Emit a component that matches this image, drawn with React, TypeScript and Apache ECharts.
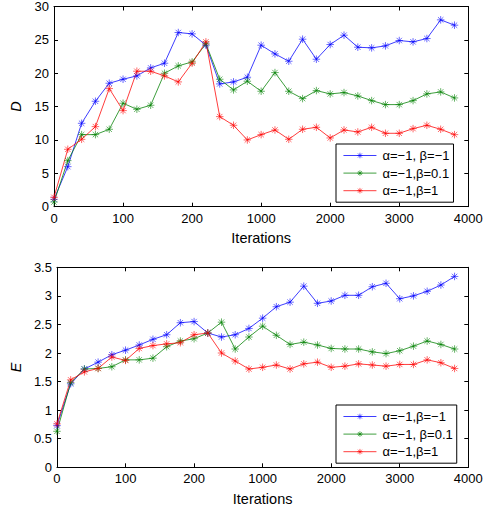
import React, { useEffect, useRef } from "react";
import * as echarts from "echarts";

const iterations = [0, 20, 40, 60, 80, 100, 120, 140, 160, 180, 200, 220, 400, 600, 800, 1000, 1200, 1400, 1600, 1800, 2000, 2200, 2400, 2600, 2800, 3000, 3200, 3400, 3600, 3800];
const xTickLabels = ["0", "100", "200", "1000", "2000", "3000", "4000"];

const dBlue = [1.1, 6.0, 12.5, 15.8, 18.5, 19.1, 19.6, 20.8, 21.5, 26.1, 25.9, 24.2, 18.4, 18.7, 19.4, 24.2, 22.9, 21.8, 25.1, 22.1, 24.3, 25.7, 23.9, 23.8, 24.1, 24.9, 24.7, 25.2, 28.0, 27.2];
const dGreen = [0.7, 6.9, 10.8, 10.8, 11.6, 15.5, 14.6, 15.2, 20.0, 21.1, 21.7, 24.4, 19.1, 17.5, 18.8, 17.3, 20.1, 17.3, 16.2, 17.4, 16.9, 17.1, 16.6, 15.9, 15.3, 15.3, 15.9, 16.9, 17.2, 16.3];
const dRed = [1.4, 8.6, 10.1, 12.0, 17.7, 14.4, 20.3, 20.3, 19.6, 18.7, 21.5, 24.7, 13.5, 12.2, 10.0, 10.8, 11.5, 10.1, 11.6, 11.9, 10.3, 11.5, 11.2, 11.9, 11.0, 11.0, 11.7, 12.2, 11.6, 10.8];

const eBlue = [0.73, 1.46, 1.72, 1.84, 1.97, 2.05, 2.14, 2.24, 2.32, 2.53, 2.55, 2.35, 2.28, 2.32, 2.43, 2.61, 2.81, 2.89, 3.17, 2.87, 2.91, 3.01, 3.01, 3.16, 3.22, 2.95, 3.0, 3.08, 3.19, 3.34];
const eGreen = [0.63, 1.48, 1.72, 1.73, 1.76, 1.88, 1.88, 1.91, 2.11, 2.21, 2.25, 2.35, 2.54, 2.07, 2.28, 2.47, 2.31, 2.15, 2.19, 2.14, 2.08, 2.07, 2.07, 2.02, 1.99, 2.04, 2.12, 2.21, 2.15, 2.07];
const eRed = [0.76, 1.53, 1.67, 1.73, 1.93, 1.87, 2.08, 2.13, 2.16, 2.18, 2.32, 2.35, 2.0, 1.86, 1.72, 1.75, 1.79, 1.72, 1.81, 1.84, 1.75, 1.77, 1.81, 1.79, 1.77, 1.8, 1.8, 1.88, 1.83, 1.73];

const namesTop = ["α=−1, β=−1", "α=−1,β=0.1", "α=−1,β=1"];
const namesBottom = ["α=−1,β=−1", "α=−1, β=0.1", "α=−1,β=1"];
const colors = ["#0000ff", "#008000", "#ff0000"];

const STAR = "path://M0,-5L0,5M-5,0L5,0M-3.6,-3.6L3.6,3.6M-3.6,3.6L3.6,-3.6";
const FONT = "'Liberation Sans', Arial, Helvetica, sans-serif";

export default function App() {
  const ref = useRef<HTMLDivElement>(null);
  useEffect(() => {
    document.body.style.margin = "0";
    const chart = echarts.init(ref.current!, undefined, { renderer: "svg" });
    const toPts = (vals: number[]) => vals.map((v, i) => [i, v]);

    const grids = [
      { left: 46.7, top: 6, width: 421.6, height: 200.7 },
      { left: 46.7, top: 267.3, width: 421.6, height: 200 },
    ];
    const axisLine = { show: true, onZero: false, lineStyle: { color: "#000", width: 1 } };
    const tick = { show: true, inside: true, length: 4, lineStyle: { color: "#000" } };
    const labelStyle = { color: "#000", fontFamily: FONT, fontSize: 13 };

    const xAxes: any[] = [];
    const yAxes: any[] = [];
    [0, 1].forEach((g) => {
      xAxes.push({
        type: "value", gridIndex: g, min: 0, max: 30, interval: 5, position: "bottom",
        axisLine, axisTick: tick, splitLine: { show: false },
        axisLabel: { ...labelStyle, margin: 5, formatter: (v: number) => xTickLabels[Math.round(v / 5)] },
        name: "Iterations", nameLocation: "middle", nameGap: 24,
        nameTextStyle: { color: "#000", fontFamily: FONT, fontSize: 14.5 },
      });
      xAxes.push({
        type: "value", gridIndex: g, min: 0, max: 30, interval: 5, position: "top",
        axisLine, axisTick: tick, splitLine: { show: false }, axisLabel: { show: false },
      });
      const yMax = g === 0 ? 30 : 3.5;
      const yInt = g === 0 ? 5 : 0.5;
      yAxes.push({
        type: "value", gridIndex: g, min: 0, max: yMax, interval: yInt, position: "left",
        axisLine, axisTick: tick, splitLine: { show: false },
        axisLabel: { ...labelStyle, margin: 5 },
        name: g === 0 ? "D" : "E", nameLocation: "middle", nameGap: 31, nameRotate: 90,
        nameTextStyle: { color: "#000", fontFamily: FONT, fontSize: 14.5, fontStyle: "italic" },
      });
      yAxes.push({
        type: "value", gridIndex: g, min: 0, max: yMax, interval: yInt, position: "right",
        axisLine, axisTick: tick, splitLine: { show: false }, axisLabel: { show: false },
      });
    });

    const mk = (name: string, vals: number[], c: number, g: number) => ({
      type: "line", name, xAxisIndex: g * 2, yAxisIndex: g * 2,
      data: toPts(vals), symbol: STAR, symbolSize: 7.5, showSymbol: true,
      lineStyle: { color: colors[c], width: 0.9, opacity: 0.85 },
      itemStyle: { color: colors[c], borderColor: colors[c], borderWidth: 0.7, opacity: 0.85 },
      emphasis: { disabled: true },
    });

    const series = [
      mk(namesTop[0], dBlue, 0, 0), mk(namesTop[1], dGreen, 1, 0), mk(namesTop[2], dRed, 2, 0),
      mk(namesBottom[0], eBlue, 0, 1), mk(namesBottom[1], eGreen, 1, 1), mk(namesBottom[2], eRed, 2, 1),
    ];

    const legendBase = {
      orient: "vertical", backgroundColor: "#fff", borderColor: "#000", borderWidth: 1,
      itemWidth: 33, itemHeight: 7, itemGap: 4.6, padding: [5, 4, 5, 7],
      lineStyle: { width: 0.9 },
      itemStyle: { borderWidth: 0.7 },
      textStyle: { color: "#000", fontFamily: FONT, fontSize: 13, padding: [0, 0, 0, 1], lineHeight: 13 },
      selectedMode: false,
    };

    chart.setOption({
      animation: false,
      grid: grids.map((g) => ({ ...g, show: false })),
      xAxis: xAxes,
      yAxis: yAxes,
      legend: [
        { ...legendBase, data: namesTop, left: 336, top: 144 },
        { ...legendBase, data: namesBottom, left: 336, top: 405 },
      ],
      series,
    });
    return () => chart.dispose();
  }, []);
  return <div ref={ref} style={{ width: 486, height: 508 }} />;
}
